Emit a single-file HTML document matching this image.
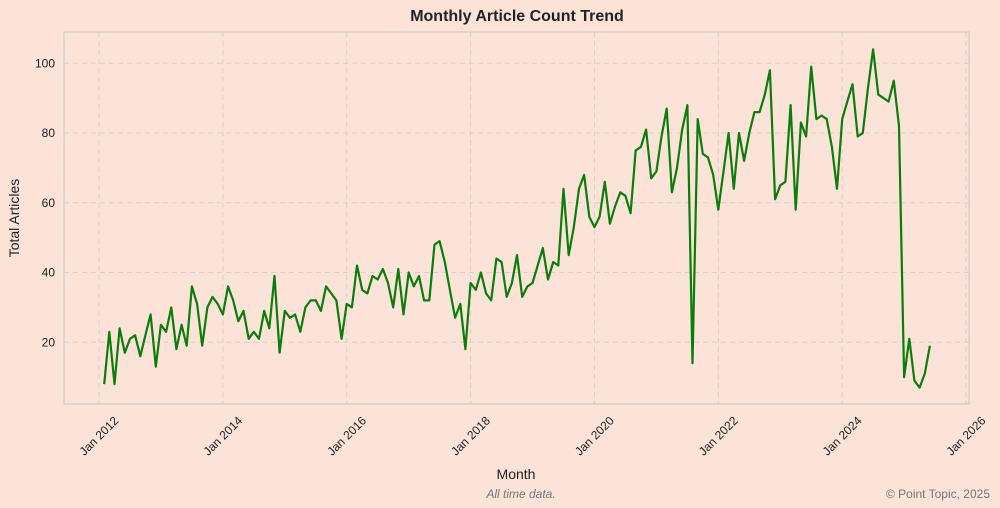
<!DOCTYPE html>
<html><head><meta charset="utf-8"><style>
html,body{margin:0;padding:0;background:#fce3d8;}
svg{display:block;font-family:"Liberation Sans",sans-serif;}
</style></head><body>
<svg id="chart" width="1000" height="508" viewBox="0 0 1000 508">
<rect x="0" y="0" width="1000" height="508" fill="#fce3d8"/>
<text x="517" y="21" text-anchor="middle" font-size="16" font-weight="bold" fill="#222">Monthly Article Count Trend</text>
<g id="grid"></g>
<g id="axes"></g>
<g id="series"></g>
<rect x="64" y="32" width="905" height="372" fill="none" stroke="#cccccc" stroke-width="1.2"/>
<text x="19" y="218" text-anchor="middle" font-size="14" fill="#222" transform="rotate(-90 19 218)">Total Articles</text>
<text x="516" y="479" text-anchor="middle" font-size="14" fill="#222">Month</text>
<text x="521" y="498" text-anchor="middle" font-size="12" font-style="italic" fill="#777">All time data.</text>
<text x="990" y="498" text-anchor="end" font-size="12" fill="#777">© Point Topic, 2025</text>
</svg>
<script>
const startYear = 2012, startMonth = 1; // Feb 2012 (0-based month)
const counts = [8,23,8,24,17,21,22,16,22,28,13,25,23,30,18,25,19,36,31,19,30,33,31,28,36,32,26,29,21,23,21,29,24,39,17,29,27,28,23,30,32,32,29,36,34,32,21,31,30,42,35,34,39,38,
41,37,30,41,28,40,36,39,32,32,48,49,43,35,27,31,18,37,35,40,34,32,44,43,33,37,45,33,36,37,42,47,38,43,42,64,45,53,64,68,56,53,56,66,54,59,63,62,57,75,
76,81,67,69,79,87,63,70,81,88,14,84,74,73,68,58,69,80,64,80,72,80,86,86,91,98,61,65,66,88,58,83,79,99,84,85,84,76,64,84,89,94,79,80,93,104,91,90,89,95,82,10,21,9,7,11,19];
const yTicks = [20,40,60,80,100];
const xTickYears = [2012,2014,2016,2018,2020,2022,2024,2026];

const NS = "http://www.w3.org/2000/svg";
const x0 = 99, pxPerMonth = 5.161;
function xScale(monthsSinceJan2012){ return x0 + monthsSinceJan2012*pxPerMonth; }
function yScale(v){ return 412 - v*3.4875; }
function mk(tag, attrs, parent){ const e=document.createElementNS(NS,tag); for(const k in attrs) e.setAttribute(k,attrs[k]); parent.appendChild(e); return e; }
const grid=document.getElementById('grid'), axes=document.getElementById('axes'), series=document.getElementById('series');

yTicks.forEach(v=>{
  const y=yScale(v);
  const l=mk('line',{x1:64,x2:969,y1:y,y2:y,stroke:'#d8d0cc','stroke-width':1,'stroke-dasharray':'5,4'},grid);
  
  
  const t=mk('text',{x:55,y:y+4,'text-anchor':'end','font-size':12,fill:'#222'},axes);
  t.textContent=v;
  
  
});
xTickYears.forEach(yr=>{
  const x=xScale((yr-2012)*12);
  const l=mk('line',{x1:x,x2:x,y1:32,y2:404,stroke:'#d8d0cc','stroke-width':1,'stroke-dasharray':'5,4'},grid);
  
  
  const t=mk('text',{x:x,y:440,'text-anchor':'middle','font-size':12,fill:'#222',transform:`rotate(-45 ${x} 436)`},axes);
  t.textContent='Jan '+yr;
  
  
});
const pts = counts.map((v,i)=>xScale(startMonth+i).toFixed(1)+','+yScale(v).toFixed(1)).join(' ');
const line=mk('polyline',{points:pts,fill:'none',stroke:'#0a7d0a','stroke-width':2.2,'stroke-linejoin':'round'},series);


</script>
</body></html>
